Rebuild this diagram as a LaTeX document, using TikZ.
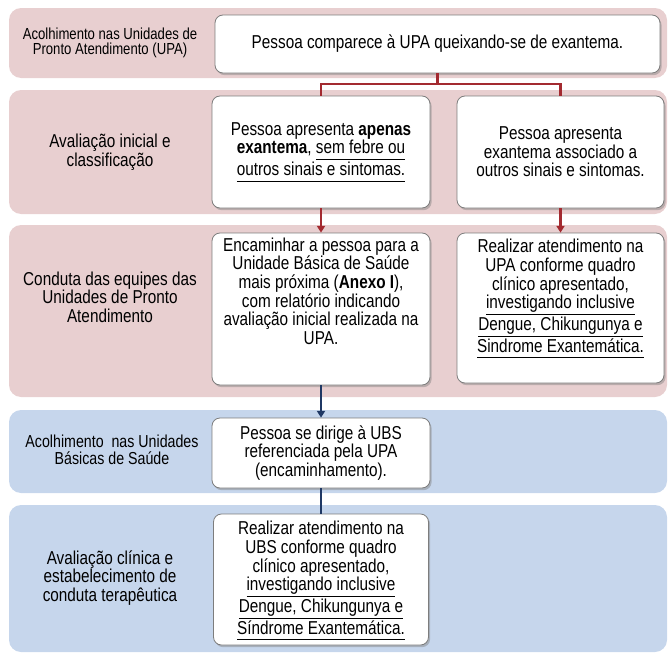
\documentclass[tikz,border=0pt]{standalone}
\usepackage{fontspec}
\setmainfont{Liberation Sans}[FakeStretch=0.82]
\usetikzlibrary{shadows,arrows.meta}
\definecolor{bandpink}{RGB}{232,207,208}
\definecolor{bandblue}{RGB}{198,214,236}
\definecolor{linered}{RGB}{163,42,48}
\definecolor{linenavy}{RGB}{31,56,100}
\definecolor{boxedge}{RGB}{125,125,125}
\newcommand{\ulx}[1]{\underline{\vphantom{g}#1}}
\begin{document}
\begin{tikzpicture}[x=0.75pt,y=-0.75pt,
  band/.style={rounded corners=9pt},
  card/.style={draw=boxedge, line width=0.6pt, fill=white, rounded corners=6pt,
    drop shadow={shadow xshift=1.2pt, shadow yshift=-1.6pt, opacity=0.45},
    inner sep=0pt},
  cardtext/.style={align=center, font=\fontsize{14}{14}\selectfont, inner sep=0pt},
  lbl/.style={align=center, font=\fontsize{14}{14}\selectfont, inner sep=0pt},
  redln/.style={draw=linered, line width=1.6pt},
  navyln/.style={draw=linenavy, line width=1.8pt},
  tipped/.style={-{Triangle[width=6pt,length=5pt]}}
]
\path[use as bounding box] (0,0) rectangle (668,653);
% bands
\fill[bandpink, band] (9,8) rectangle (667,78);
\fill[bandpink, band] (9,90) rectangle (667,214);
\fill[bandpink, band] (9,225) rectangle (667,397);
\fill[bandblue, band] (9,410) rectangle (667,493);
\fill[bandblue, band] (9,505) rectangle (667,652);

% row labels
\node[lbl, font=\fontsize{12}{11.5}\selectfont] (l1) at (110,43)
  {Acolhimento nas Unidades de\\Pronto Atendimento (UPA)};
\node[lbl] (l2) at (110,152) {Avaliação inicial e\\classificação};
\node[lbl] (l3) at (110,297) {Conduta das equipes das\\Unidades de Pronto\\Atendimento};
\node[lbl, font=\fontsize{13}{13}\selectfont] (l4) at (112,450)
  {Acolhimento\ \ nas Unidades\\Básicas de Saúde};
\node[lbl] (l5) at (110,578) {Avaliação clínica e\\estabelecimento de\\conduta terapêutica};

% cards
\node[card, minimum width=333.75pt, minimum height=43.5pt] (b1) at (437.5,44) {};
\node[card, minimum width=163.5pt, minimum height=84pt] (b2) at (321,152) {};
\node[card, minimum width=155.25pt, minimum height=84pt] (b3) at (560.5,152) {};
\node[card, minimum width=163.5pt, minimum height=114pt] (b4) at (321,309) {};
\node[card, minimum width=155.25pt, minimum height=112.5pt] (b5) at (560.5,308) {};
\node[card, minimum width=163.5pt, minimum height=52.5pt] (b6) at (321,453) {};
\node[card, minimum width=161.25pt, minimum height=98.25pt] (b7) at (321,579.5) {};

% card texts
\node[cardtext] (t1) at (437.5,44) {Pessoa comparece à UPA queixando-se de exantema.};
\node[cardtext] (t2) at (321,152)
  {Pessoa apresenta \textbf{apenas}\\\textbf{exantema}, \ulx{sem febre ou}\\\ulx{outros sinais e sintomas.}};
\node[cardtext] (t3) at (560.5,152)
  {Pessoa apresenta\\exantema associado a\\outros sinais e sintomas.};
\node[cardtext] (t4) at (321,291)
  {Encaminhar a pessoa para a\\Unidade Básica de Saúde\\mais próxima (\textbf{Anexo I}),\\com relatório indicando\\avaliação inicial realizada na\\UPA.};
\node[cardtext] (t5) at (560.5,299)
  {Realizar atendimento na\\UPA conforme quadro\\clínico apresentado,\\\ulx{investigando inclusive}\\\ulx{Dengue, Chikungunya e}\\\ulx{Sindrome Exantemática.}};
\node[cardtext] (t6) at (321,453)
  {Pessoa se dirige à UBS\\referenciada pela UPA\\(encaminhamento).};
\node[cardtext] (t7) at (321,581)
  {Realizar atendimento na\\UBS conforme quadro\\clínico apresentado,\\\ulx{investigando inclusive}\\\ulx{Dengue, Chikungunya e}\\\ulx{Síndrome Exantemática.}};

% connectors
\draw[redln] (b1.south) -- ++(0,11) coordinate (j1);
\draw[redln] (j1) -| (b2.north);
\draw[redln] (j1) -| (b3.north);
\draw[redln, tipped] (b2.south) -- (b4.north);
\draw[redln, tipped] (b3.south) -- (b5.north);
\draw[navyln, tipped] (b4.south) -- (b6.north);
\draw[navyln] (b6.south) -- (b7.north);
\end{tikzpicture}
\end{document}
